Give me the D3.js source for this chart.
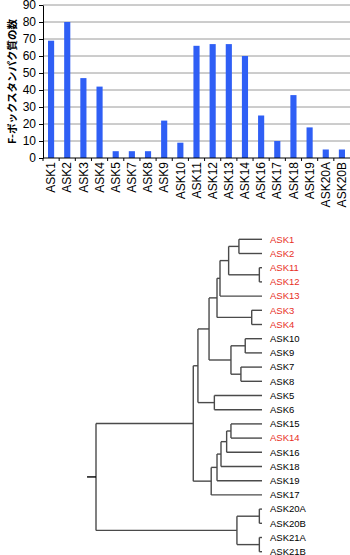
<!DOCTYPE html>
<html>
<head>
<meta charset="utf-8">
<script src="https://cdn.jsdelivr.net/npm/d3@7"></script>
<style>
  body { margin: 0; background: #fff; }
  svg { display: block; }
</style>
</head>
<body>
<svg width="350" height="555"></svg>
<script>
var svg = d3.select('svg');

// bar chart data
var categories = ["ASK1", "ASK2", "ASK3", "ASK4", "ASK5", "ASK7", "ASK8", "ASK9", "ASK10",
    "ASK11", "ASK12", "ASK13", "ASK14", "ASK16", "ASK17", "ASK18", "ASK19", "ASK20A", "ASK20B"];
var counts = [69, 80, 47, 42, 4, 4, 4, 22, 9, 66, 67, 67, 60, 25, 10, 37, 18, 5, 5];
var yTicks = [0, 10, 20, 30, 40, 50, 60, 70, 80, 90];
var yTitle = "F-ボックスタンパク質の数";

// tree data: depth 0 = root, 100 = leaf tips
var leafOrder = ["ASK1", "ASK2", "ASK11", "ASK12", "ASK13", "ASK3", "ASK4", "ASK10", "ASK9",
    "ASK7", "ASK8", "ASK5", "ASK6", "ASK15", "ASK14", "ASK16", "ASK18", "ASK19", "ASK17",
    "ASK20A", "ASK20B", "ASK21A", "ASK21B"];
var redLeaves = ["ASK1", "ASK2", "ASK11", "ASK12", "ASK13", "ASK3", "ASK4", "ASK14"];
var rootStub = -5.4;

function leaf(n) { return {name: n, depth: 100}; }
function node(d, kids) { return {depth: d, children: kids}; }

var tree = node(0, [
    node(58.6, [
        node(61.4, [
            node(68.1, [
                node(72.9, [
                    node(74.7, [
                        node(79.9, [
                            node(86.1, [leaf("ASK1"), leaf("ASK2")]),
                            node(98.4, [leaf("ASK11"), leaf("ASK12")])
                        ]),
                        leaf("ASK13")
                    ]),
                    node(93.8, [leaf("ASK3"), leaf("ASK4")])
                ]),
                node(81.3, [
                    node(89.9, [leaf("ASK10"), leaf("ASK9")]),
                    node(87.3, [leaf("ASK7"), leaf("ASK8")])
                ])
            ]),
            node(71.3, [leaf("ASK5"), leaf("ASK6")])
        ]),
        node(69.4, [
            node(72.9, [
                node(75.3, [
                    node(78.7, [
                        node(81.3, [leaf("ASK15"), leaf("ASK14")]),
                        leaf("ASK16")
                    ]),
                    leaf("ASK18")
                ]),
                leaf("ASK19")
            ]),
            leaf("ASK17")
        ])
    ]),
    node(84.9, [
        node(98.4, [leaf("ASK20A"), leaf("ASK20B")]),
        node(98.4, [leaf("ASK21A"), leaf("ASK21B")])
    ])
]);

// ---------- bar chart ----------
var x = d3.scaleBand().domain(categories).range([43, 350]).paddingInner(0.62).paddingOuter(0.31);
var y = d3.scaleLinear().domain([0, 90]).range([158, 5]);

svg.append("g")
    .selectAll("line")
    .data(yTicks.slice(1))
    .enter().append("line")
    .attr("x1", 43).attr("x2", 350)
    .attr("y1", function(d) { return y(d); })
    .attr("y2", function(d) { return y(d); })
    .attr("stroke", "#9a9a9a")
    .attr("stroke-width", 1);

svg.append("g")
    .selectAll("rect")
    .data(counts)
    .enter().append("rect")
    .attr("x", function(d, i) { return x(categories[i]); })
    .attr("y", function(d) { return y(d); })
    .attr("width", x.bandwidth())
    .attr("height", function(d) { return y(0) - y(d); })
    .attr("fill", "#2f5ff5");

var yAxis = svg.append("g")
    .attr("transform", "translate(43,0)")
    .call(d3.axisLeft(y).tickValues(yTicks).tickSize(4).tickPadding(3).tickSizeOuter(0));
yAxis.select(".domain").attr("stroke", "#000");
yAxis.selectAll("text")
    .attr("font-family", "Liberation Sans, Arial, sans-serif")
    .attr("font-size", "12px")
    .attr("fill", "#000");

// x axis: baseline with ticks between bands
var xAxisG = svg.append("g");
xAxisG.append("line")
    .attr("x1", 43).attr("x2", 350)
    .attr("y1", y(0)).attr("y2", y(0))
    .attr("stroke", "#000");
xAxisG.selectAll("line.tk")
    .data(categories)
    .enter().append("line")
    .attr("class", "tk")
    .attr("x1", function(d) { return x(d) - x.step() * x.paddingInner() / 2; })
    .attr("x2", function(d) { return x(d) - x.step() * x.paddingInner() / 2; })
    .attr("y1", y(0)).attr("y2", y(0) + 3)
    .attr("stroke", "#000");
xAxisG.selectAll("text")
    .data(categories)
    .enter().append("text")
    .attr("transform", function(d) {
        return "translate(" + (x(d) + x.bandwidth() / 2) + "," + (y(0) + 4) + ") rotate(-90)";
    })
    .attr("dy", "0.35em")
    .attr("text-anchor", "end")
    .attr("font-family", "Liberation Sans, Arial, sans-serif")
    .attr("font-size", "12px")
    .attr("fill", "#000")
    .text(function(d) { return d; });

svg.append("text")
    .attr("transform", "translate(12," + ((y(0) + y(90)) / 2) + ") rotate(-90)")
    .attr("dy", "0.35em")
    .attr("text-anchor", "middle")
    .attr("font-family", "Noto Sans CJK JP, sans-serif")
    .attr("font-size", "10.5px")
    .attr("font-weight", "bold")
    .attr("fill", "#000")
    .text(yTitle);

// ---------- tree ----------
var tx = d3.scaleLinear().domain([0, 100]).range([96, 262]);
var ty = d3.scalePoint().domain(leafOrder).range([239.3, 551.7]);

var root = d3.hierarchy(tree);
root.eachAfter(function(n) {
    if (n.children) {
        n.py = (n.children[0].py + n.children[n.children.length - 1].py) / 2;
    } else {
        n.py = ty(n.data.name);
    }
    n.px = tx(n.data.depth);
});

var treeG = svg.append("g")
    .attr("stroke", "#4a4a4a")
    .attr("stroke-width", 1.4)
    .attr("fill", "none");

var inner = root.descendants().filter(function(n) { return n.children; });
treeG.selectAll("line.v")
    .data(inner)
    .enter().append("line")
    .attr("x1", function(n) { return n.px; })
    .attr("x2", function(n) { return n.px; })
    .attr("y1", function(n) { return n.children[0].py; })
    .attr("y2", function(n) { return n.children[n.children.length - 1].py; });

treeG.selectAll("line.h")
    .data(root.descendants().slice(1))
    .enter().append("line")
    .attr("x1", function(n) { return n.parent.px; })
    .attr("x2", function(n) { return n.px; })
    .attr("y1", function(n) { return n.py; })
    .attr("y2", function(n) { return n.py; });

treeG.append("line")
    .attr("x1", tx(rootStub)).attr("x2", root.px)
    .attr("y1", root.py).attr("y2", root.py)
    .attr("stroke", "#000");

svg.append("g")
    .selectAll("text")
    .data(root.leaves())
    .enter().append("text")
    .attr("x", tx(100) + 8)
    .attr("y", function(n) { return n.py; })
    .attr("dy", "0.35em")
    .attr("font-family", "Liberation Sans, Arial, sans-serif")
    .attr("font-size", "9.5px")
    .attr("fill", function(n) { return redLeaves.indexOf(n.data.name) >= 0 ? "#e8301f" : "#000"; })
    .text(function(n) { return n.data.name; });
</script>
</body>
</html>
